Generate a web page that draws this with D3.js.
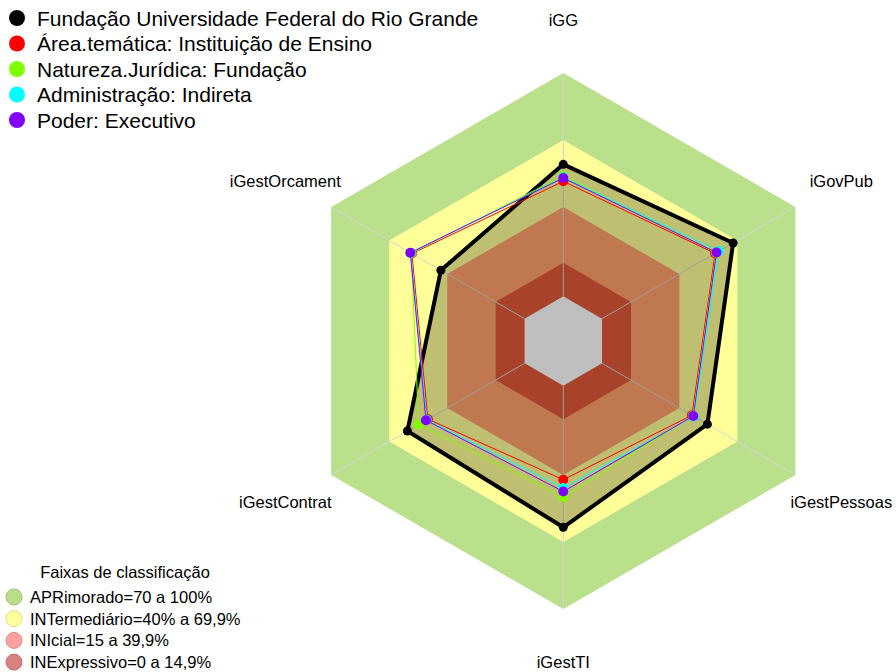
<!DOCTYPE html>
<html>
<head>
<meta charset="utf-8">
<script src="https://cdn.jsdelivr.net/npm/d3@7"></script>
<style>
  body { margin: 0; background: #fff; }
  text { font-family: "Liberation Sans", Arial, sans-serif; }
</style>
</head>
<body>
<div id="chart-area"></div>
<script>
// Axes, clockwise from the top
const axes = ["iGG", "iGovPub", "iGestPessoas", "iGestTI", "iGestContrat", "iGestOrcament"]

// Series (percent)
const seriesNames = [
    "Fundação Universidade Federal do Rio Grande",
    "Área.temática: Instituição de Ensino",
    "Natureza.Jurídica: Fundação",
    "Administração: Indireta",
    "Poder: Executivo"
]
const ufrg = [59.1, 67.8, 54.5, 63.4, 60.6, 43.3]
const areaTematica = [51.5, 58.5, 46.5, 42.1, 50.0, 58.3]
const naturezaJuridica = [54.0, 59.0, 47.0, 49.9, 54.8, 58.6]
const administracao = [53.3, 60.5, 47.5, 45.8, 50.6, 58.9]
const poder = [53.0, 59.2, 47.2, 47.4, 51.0, 59.1]
const seriesColors = ["#000000", "#ff0000", "#80ff00", "#00ffff", "#8000ff"]

// Classification bands
const bandLabels = ["APRimorado=70 a 100%", "INTermediário=40% a 69,9%", "INIcial=15 a 39,9%", "INExpressivo=0 a 14,9%"]
const bandLimits = [100, 70, 40, 15]
const bandColors = ["#bae08c", "#ffff99", "#ffa06b", "#e05938"]
const bandLegendColors = ["#b9df8b", "#ffff9c", "#ffa0a0", "#d98080"]

const width = 896, height = 672
const cx = 563.3, cy = 341, R = 268

const svg = d3.select("#chart-area").append("svg")
    .attr("width", width)
    .attr("height", height)

const r = d3.scaleLinear().domain([0, 100]).range([R / 6, R])
const angle = d3.scalePoint().domain(axes).range([0, 2 * Math.PI * 5 / 6])

const pt = (a, v) => {
    const t = angle(a)
    return [cx + r(v) * Math.sin(t), cy - r(v) * Math.cos(t)]
}
const ring = v => axes.map(a => pt(a, v))
const poly = d3.line().curve(d3.curveLinearClosed)

const g = svg.append("g")

// background bands
bandLimits.forEach((lim, i) => {
    g.append("path")
        .attr("d", poly(ring(lim)))
        .attr("fill", bandColors[i])
})
// white hole in the middle
g.append("path")
    .attr("d", poly(ring(0)))
    .attr("fill", "#ffffff")

// radial axis lines
axes.forEach(a => {
    const p0 = pt(a, 0), p1 = pt(a, 100)
    g.append("line")
        .attr("x1", p0[0]).attr("y1", p0[1])
        .attr("x2", p1[0]).attr("y2", p1[1])
        .attr("stroke", "#d4d4d4")
        .attr("stroke-width", 1)
})

// axis labels
axes.forEach(a => {
    const t = angle(a)
    g.append("text")
        .attr("x", cx + 321 * Math.sin(t))
        .attr("y", cy - 321 * Math.cos(t))
        .attr("text-anchor", "middle")
        .attr("dominant-baseline", "central")
        .attr("font-size", "16.5px")
        .attr("fill", "#000")
        .text(a)
})

const allSeries = [ufrg, areaTematica, naturezaJuridica, administracao, poder]

// first series filled
g.append("path")
    .attr("d", poly(axes.map((a, i) => pt(a, ufrg[i]))))
    .attr("fill", "rgba(0,0,0,0.25)")
    .attr("stroke", "none")

allSeries.forEach((vals, s) => {
    const pts = axes.map((a, i) => pt(a, vals[i]))
    g.append("path")
        .attr("d", poly(pts))
        .attr("fill", "none")
        .attr("stroke", seriesColors[s])
        .attr("stroke-width", s === 0 ? 4 : 1)
        .attr("stroke-linejoin", "round")
})
allSeries.forEach((vals, s) => {
    const pts = axes.map((a, i) => pt(a, vals[i]))
    g.selectAll(null).data(pts).enter().append("circle")
        .attr("cx", d => d[0])
        .attr("cy", d => d[1])
        .attr("r", s === 0 ? 4.5 : 5)
        .attr("fill", seriesColors[s])
})

// series legend (top left)
const leg = svg.append("g")
seriesNames.forEach((n, i) => {
    const y = 18 + i * 25.5
    leg.append("circle")
        .attr("cx", 17).attr("cy", y).attr("r", 8)
        .attr("fill", seriesColors[i])
    leg.append("text")
        .attr("x", 37).attr("y", y)
        .attr("dominant-baseline", "central")
        .attr("font-size", "21px")
        .text(n)
})

// band legend (bottom left)
const leg2 = svg.append("g")
leg2.append("text")
    .attr("x", 125).attr("y", 572)
    .attr("text-anchor", "middle")
    .attr("dominant-baseline", "central")
    .attr("font-size", "16.5px")
    .text("Faixas de classificação")
bandLabels.forEach((n, i) => {
    const y = 597 + i * 21.7
    leg2.append("circle")
        .attr("cx", 14).attr("cy", y).attr("r", 8)
        .attr("fill", bandLegendColors[i])
        .attr("stroke", d3.color(bandLegendColors[i]).darker(0.4))
        .attr("stroke-width", 1)
    leg2.append("text")
        .attr("x", 30).attr("y", y)
        .attr("dominant-baseline", "central")
        .attr("font-size", "16.5px")
        .text(n)
})
</script>
</body>
</html>
